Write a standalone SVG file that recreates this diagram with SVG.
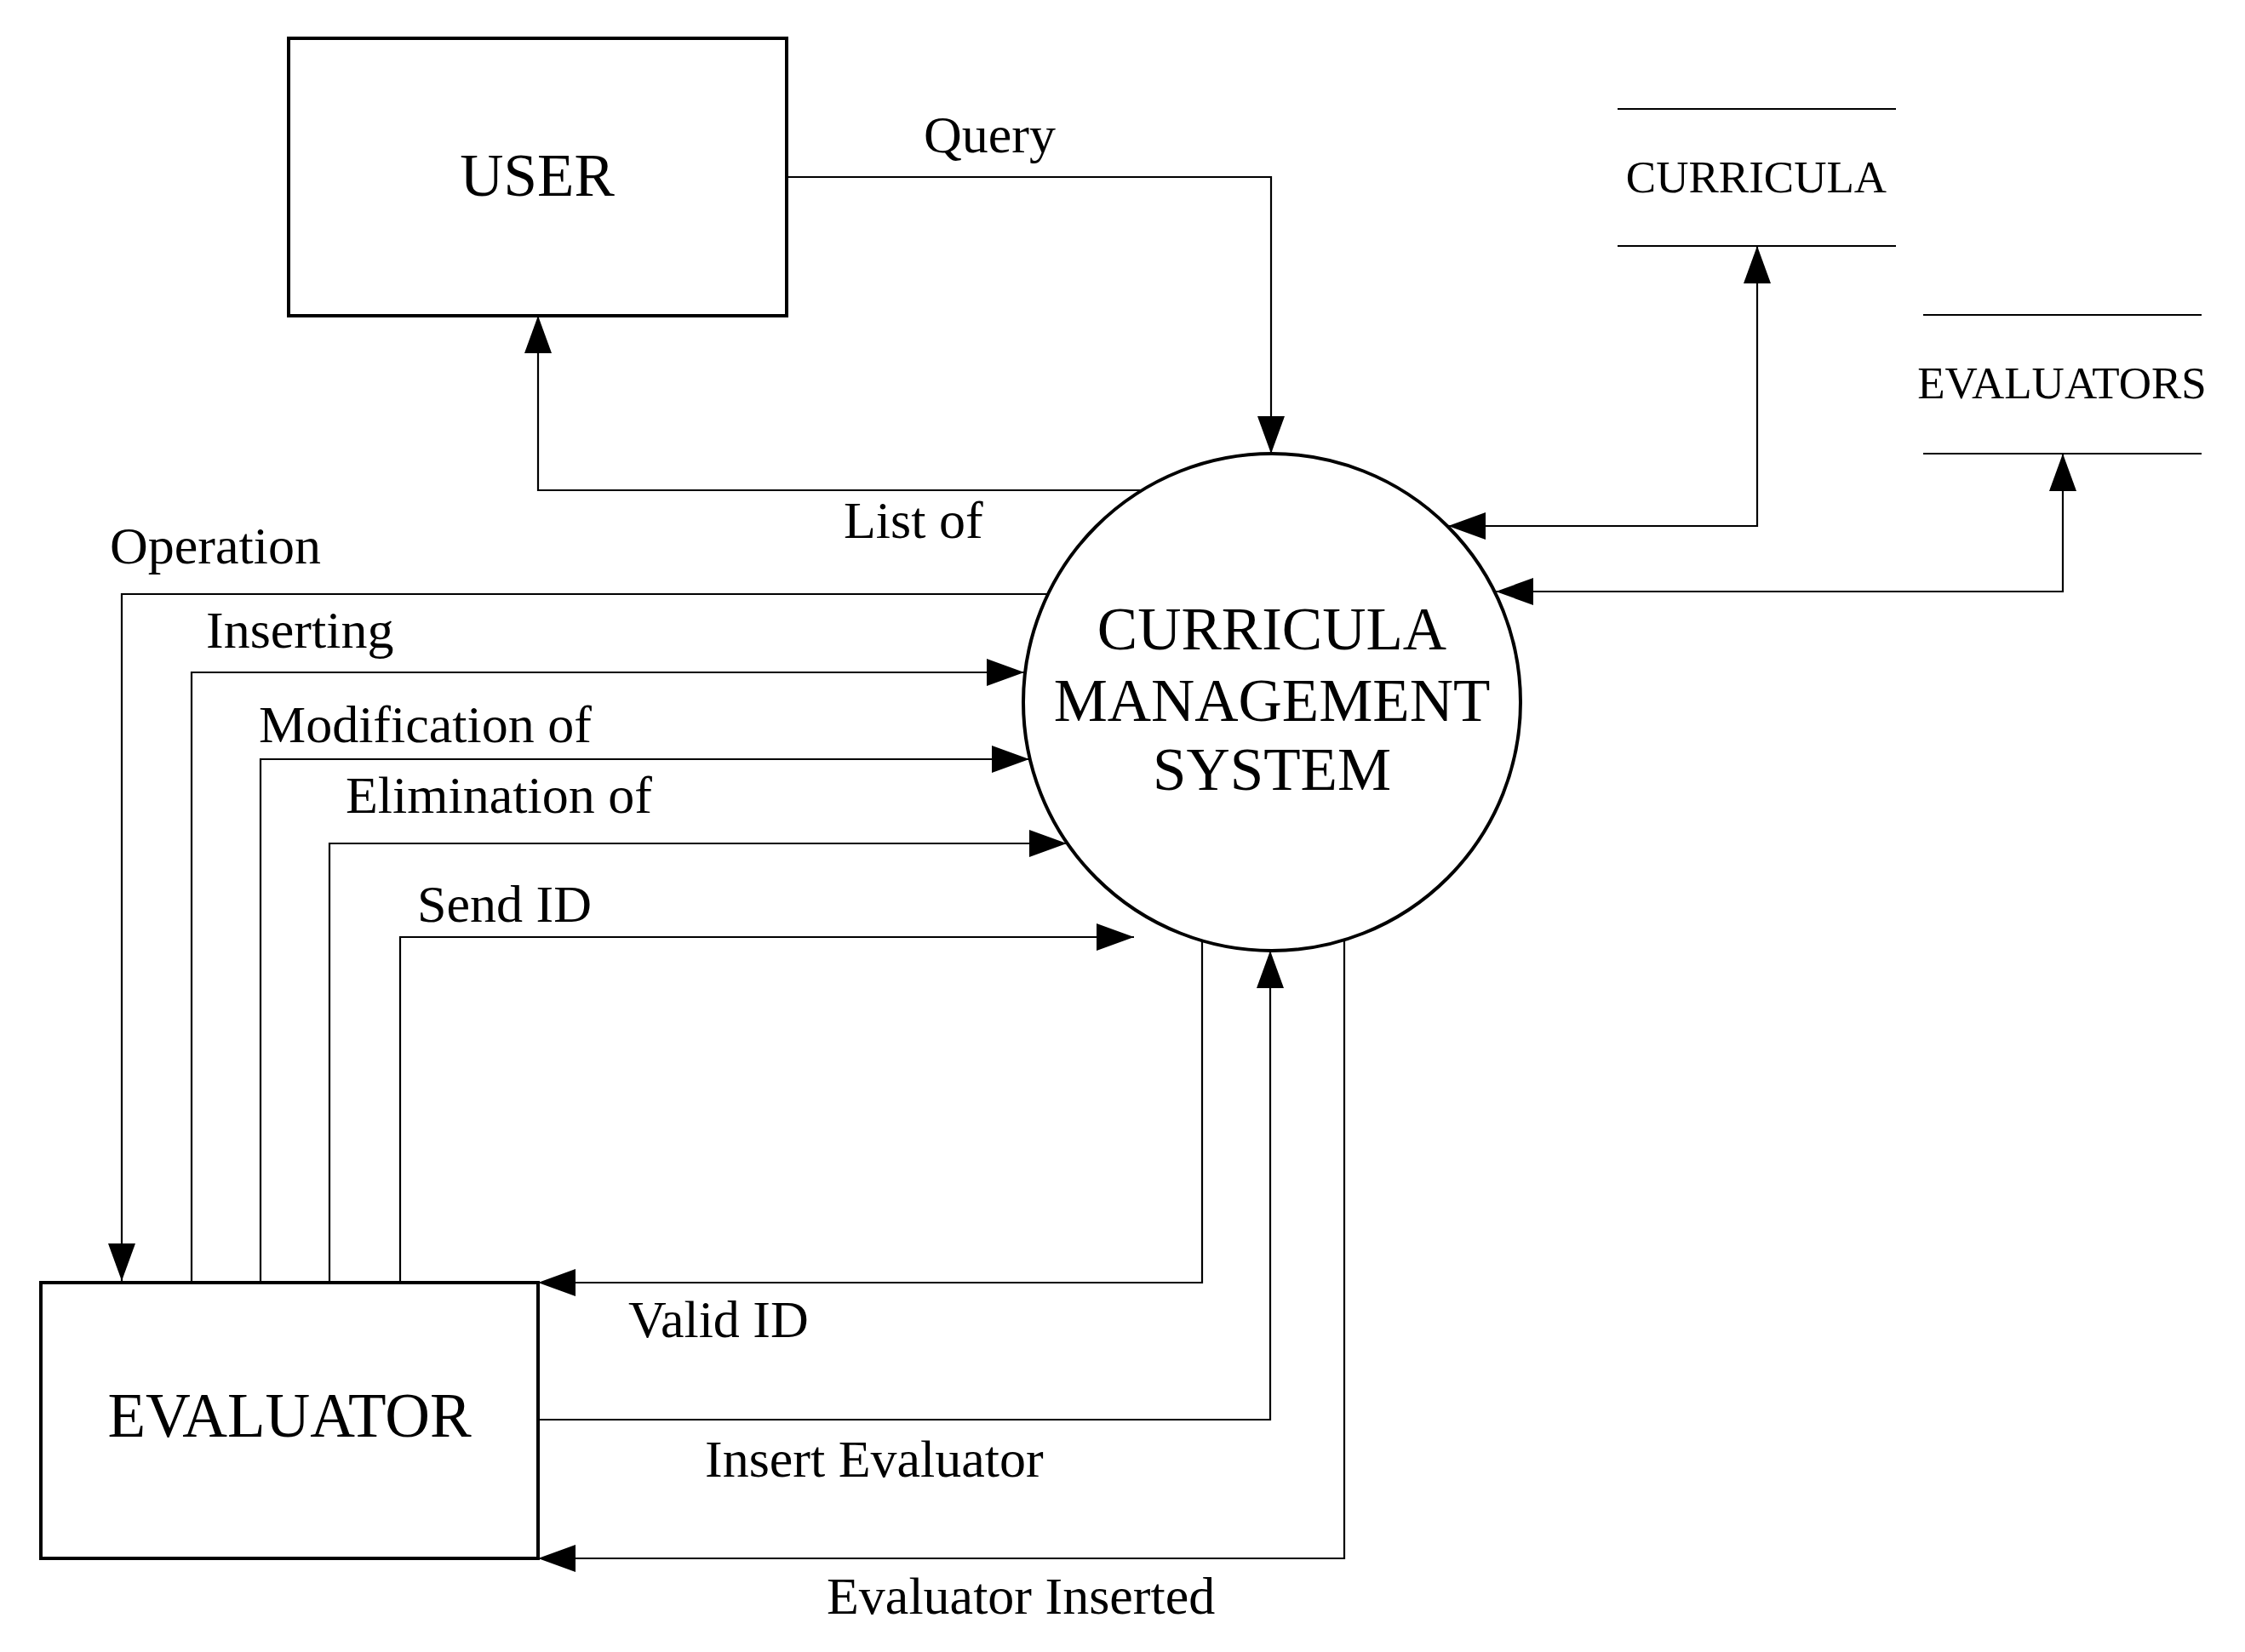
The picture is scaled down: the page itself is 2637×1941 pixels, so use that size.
<svg xmlns="http://www.w3.org/2000/svg" width="2637" height="1941" viewBox="0 0 2637 1941">
<style>
text{font-family:"Liberation Serif","Times New Roman",serif;fill:#000}
.big{font-size:71px}
.lbl{font-size:62px}
.st{font-size:53px}
.box{fill:#fff;stroke:#000;stroke-width:4}
.ln{fill:none;stroke:#000;stroke-width:2.2}
.arr{fill:none;stroke:#000;stroke-width:2.2;marker-end:url(#ah)}
</style>
<defs>
<marker id="ah" markerUnits="userSpaceOnUse" markerWidth="44" markerHeight="32" refX="44" refY="16" orient="auto">
<path d="M0,0 L44,16 L0,32 Z" fill="#000"/>
</marker>
</defs>
<rect width="2637" height="1941" fill="#fff"/>
<g id="connectors">
<path class="arr" d="M924,208 H1493 V533"/>
<path class="arr" d="M1340,576 H632 V371"/>
<path class="arr" d="M1230,698 H143 V1505"/>
<path class="arr" d="M225,1505 V790 H1203"/>
<path class="arr" d="M306,1505 V892 H1209"/>
<path class="arr" d="M387,1505 V991 H1253"/>
<path class="arr" d="M470,1505 V1101 H1332"/>
<path class="arr" d="M1412,1106 V1507 H632"/>
<path class="arr" d="M632,1668 H1492 V1117"/>
<path class="arr" d="M1579,1105 V1831 H632"/>
<path class="arr" d="M1701,618 H2064 V289"/>
<path class="arr" d="M2064,618 H1701"/>
<path class="arr" d="M1757,695 H2423 V533"/>
<path class="arr" d="M2423,695 H1757"/>
<text class="lbl" x="1085" y="179">Query</text>
<text class="lbl" x="991" y="632">List of</text>
<text class="lbl" x="129" y="662">Operation</text>
<text class="lbl" x="242" y="761">Inserting</text>
<text class="lbl" x="304" y="872">Modification of</text>
<text class="lbl" x="406" y="955">Elimination of</text>
<text class="lbl" x="490" y="1083">Send ID</text>
<text class="lbl" x="738" y="1571">Valid ID</text>
<text class="lbl" x="828" y="1735">Insert Evaluator</text>
<text class="lbl" x="971" y="1896">Evaluator Inserted</text>
</g>
<g id="user">
<rect class="box" x="339" y="45" width="585" height="326"/>
<text class="big" x="631" y="230" text-anchor="middle">USER</text>
</g>
<g id="evaluator">
<rect class="box" x="48" y="1507" width="584" height="324"/>
<text class="big" x="340" y="1688" text-anchor="middle" style="font-size:73px">EVALUATOR</text>
</g>
<g id="system">
<circle class="box" cx="1494" cy="825" r="292"/>
<text class="big" x="1494" y="763" text-anchor="middle">CURRICULA</text>
<text class="big" x="1494" y="847" text-anchor="middle">MANAGEMENT</text>
<text class="big" x="1494" y="928" text-anchor="middle">SYSTEM</text>
</g>
<g id="curricula">
<path class="ln" d="M1900,128 H2227 M1900,289 H2227"/>
<text class="st" x="2063" y="226" text-anchor="middle">CURRICULA</text>
</g>
<g id="evaluators">
<path class="ln" d="M2259,370 H2586 M2259,533 H2586"/>
<text class="st" x="2422" y="468" text-anchor="middle">EVALUATORS</text>
</g>
</svg>
